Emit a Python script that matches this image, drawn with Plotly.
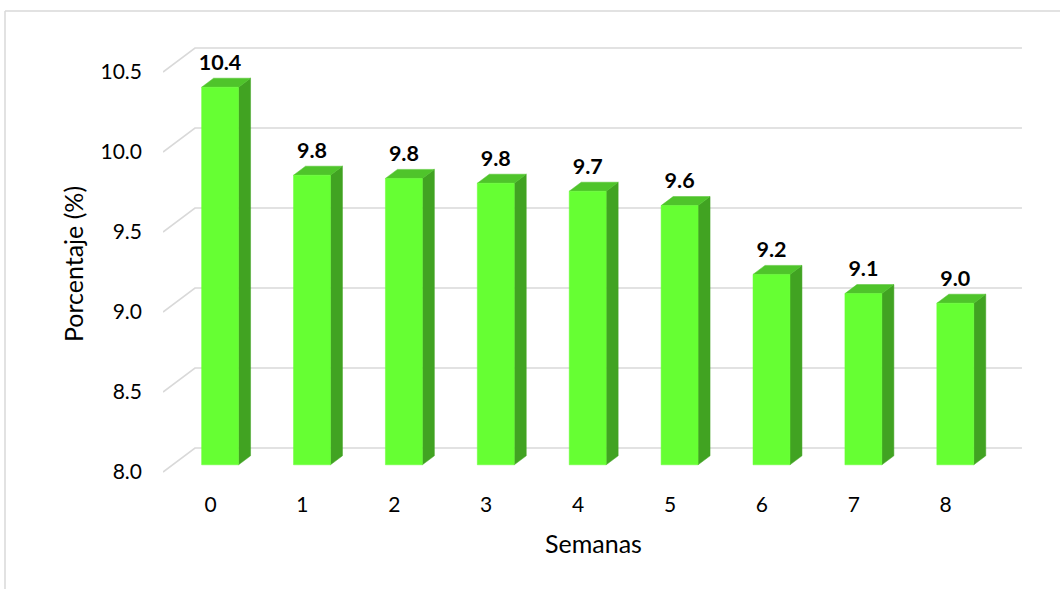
import plotly.graph_objects as go

# Weekly percentages
semanas = ["0", "1", "2", "3", "4", "5", "6", "7", "8"]
porcentaje = [10.36, 9.81, 9.79, 9.76, 9.71, 9.62, 9.19, 9.07, 9.01]
y_ticks = [8.0, 8.5, 9.0, 9.5, 10.0, 10.5]

# Oblique projection of the 3D box (in axis units)
DEPTH_X = 0.348      # full depth, horizontal shift
DEPTH_Y = 0.150      # full depth, vertical shift
FRONT = 0.30         # depth fraction of the bar front face
BAR_DEPTH = 0.375    # depth fraction occupied by a bar
HALF_W = 0.201       # half width of a bar front face
BASE = 8.0
X_LEFT, X_RIGHT = -0.5169, 8.83
LABEL_GAP = 0.02     # extra lift of the value labels

FRONT_COL = "#66ff33"
TOP_COL = "#4fc42b"
SIDE_COL = "#41a322"
GRID_COL = "#d9d9d9"
FONT = "Lato"

fig = go.Figure()

# back wall gridlines with their slanted side-wall segment
gx, gy = [], []
for v in y_ticks:
    gx += [X_LEFT, X_LEFT + DEPTH_X, X_RIGHT, None]
    gy += [v, v + DEPTH_Y, v + DEPTH_Y, None]
fig.add_trace(go.Scatter(x=gx, y=gy, mode="lines",
                         line=dict(color=GRID_COL, width=1.6),
                         hoverinfo="skip", showlegend=False))

fx, fy = FRONT * DEPTH_X, FRONT * DEPTH_Y
dx, dy = BAR_DEPTH * DEPTH_X, BAR_DEPTH * DEPTH_Y


def poly(xs, ys, color):
    fig.add_trace(go.Scatter(x=xs + [xs[0]], y=ys + [ys[0]], mode="lines",
                             fill="toself", fillcolor=color,
                             line=dict(color=color, width=0.5),
                             hoverinfo="skip", showlegend=False))


for i, v in enumerate(porcentaje):
    xl = i + fx - HALF_W
    xr = i + fx + HALF_W
    y0 = BASE + fy
    y1 = v + fy
    # side face
    poly([xr, xr + dx, xr + dx, xr], [y0, y0 + dy, y1 + dy, y1], SIDE_COL)
    # top face
    poly([xl, xr, xr + dx, xl + dx], [y1, y1, y1 + dy, y1 + dy], TOP_COL)
    # front face
    poly([xl, xr, xr, xl], [y0, y0, y1, y1], FRONT_COL)

# value labels
fig.add_trace(go.Scatter(
    x=[i + fx for i in range(len(porcentaje))],
    y=[v + fy + dy + LABEL_GAP for v in porcentaje],
    mode="text",
    text=[f"{v:.1f}" for v in porcentaje],
    textposition="top center",
    textfont=dict(family=FONT, size=21.5, color="#000000", weight="bold"),
    hoverinfo="skip", showlegend=False))

fig.update_layout(
    width=1060, height=589,
    margin=dict(l=163, r=36, t=40, b=101),
    paper_bgcolor="white", plot_bgcolor="white",
    font=dict(family=FONT, size=21, color="#000000"),
    xaxis=dict(range=[X_LEFT, 8.852], showgrid=False, zeroline=False,
               showline=False, tickmode="array",
               tickvals=list(range(len(semanas))), ticktext=semanas,
               ticks="", ticklabelstandoff=2,
               title=dict(text="Semanas", standoff=20,
                          font=dict(family=FONT, size=25))),
    yaxis=dict(range=[7.9, 10.7], showgrid=False, zeroline=False,
               showline=False, tickmode="array", tickvals=y_ticks,
               ticktext=[f"{t:.1f}" for t in y_ticks],
               ticks="", ticklabelstandoff=20,
               title=dict(text="Porcentaje (%)", standoff=9,
                          font=dict(family=FONT, size=25))),
    shapes=[
        dict(type="line", xref="paper", yref="paper",
             x0=(5 - 163) / 861, x1=(1060 - 163) / 861,
             y0=(488 - 11) / 448, y1=(488 - 11) / 448,
             line=dict(color=GRID_COL, width=1.5)),
        dict(type="line", xref="paper", yref="paper",
             x0=(5 - 163) / 861, x1=(5 - 163) / 861,
             y0=(488 - 11) / 448, y1=(488 - 589) / 448,
             line=dict(color=GRID_COL, width=1.5)),
    ],
)

fig.write_html("out.html")
